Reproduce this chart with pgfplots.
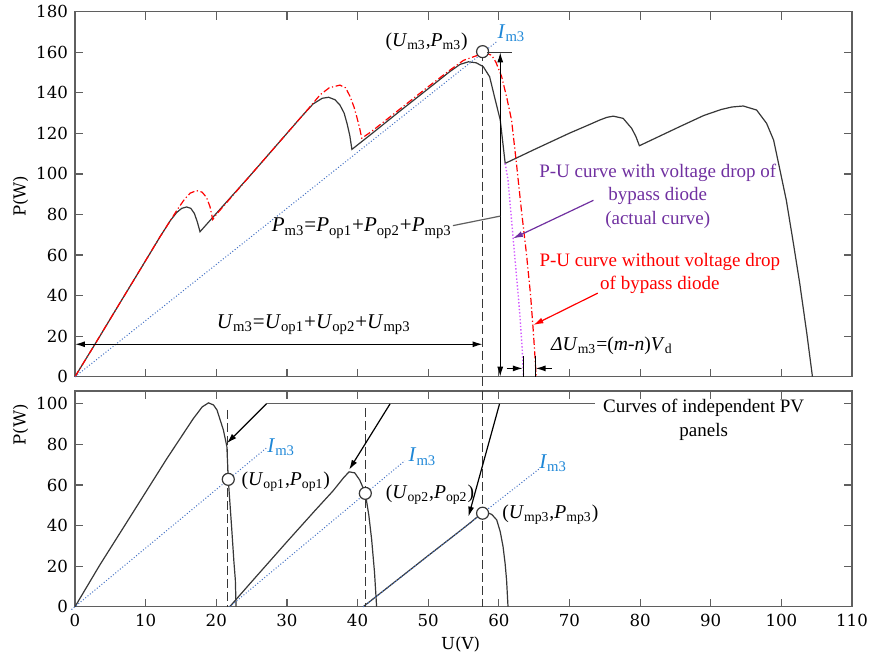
\documentclass[border=0pt]{standalone}
\usepackage{pgfplots}
\pgfplotsset{compat=1.18}
\usetikzlibrary{arrows.meta}
\usepackage{fontspec}
\setmainfont{Liberation Serif}
\newfontfamily\tickfont{DejaVu Serif}
\definecolor{cblk}{RGB}{55,55,55}
\definecolor{axg}{RGB}{95,95,95}
\definecolor{cblue}{RGB}{68,114,196}
\definecolor{lblue}{RGB}{30,135,215}
\definecolor{cpur}{RGB}{112,48,160}
\definecolor{cmag}{RGB}{210,90,255}
\newcommand{\sub}[1]{\textsubscript{#1}}
\newcommand{\mlab}{\fontsize{10.5}{12}\selectfont}
\newcommand{\plab}{\fontsize{9.8}{12}\selectfont}
\newcommand{\tlab}{\fontsize{9.5}{11.75}\selectfont}
\newcommand{\tkf}{\tickfont\fontsize{8.3}{10}\selectfont}
\pgfplotsset{
  base/.style={scale only axis, width=388.5pt, xmin=0, xmax=110,
    xtick={0,10,...,110},
    axis line style={axg, line width=0.7pt},
    major tick style={axg, line width=0.6pt},
    tick align=inside, major tick length=4pt,
    tick label style={font=\tkf},
    /pgf/number format/assume math mode=true,
    clip=false}
}
\begin{document}
\begin{tikzpicture}[>={Latex[length=5pt,width=3pt]}]
% ---------------- top axis ----------------
\begin{axis}[base, at={(0,115pt)}, anchor=south west, height=182.5pt,
  ymin=0, ymax=180, ytick={0,20,...,180}, xticklabels={}]
\addplot[cblk, line width=0.6pt] coordinates {
(0,0)(3,17)(6,34.3)(9,51.5)(12,68.8)(13.5,77)(14.4,81)(15.1,83)(15.8,83.7)(16.4,83)(16.9,80.5)(17.3,76.5)(17.7,71.5)
(20,80.5)(25,100)(30,120)(32,128)(33.7,134.5)(35,137.3)(35.9,137.8)(36.8,136.6)(37.5,134)(38.1,130)(38.5,125)(38.9,119)(39.2,112.1)
(42,119.8)(46,131)(50,142)(53,150.3)(54.5,154)(55.7,155.3)(56.8,154.8)(57.8,152.9)(58.7,147.9)(59.5,136.4)(60.2,126.6)(60.9,105.2)
(65,112)(70,120.1)(73,124.6)(74.3,126.6)(75.3,127.9)(76.2,128.5)(77.6,127.4)(78.8,122.5)(79.4,118.5)(79.9,113.9)
(85.6,123.3)(89,128.8)(91.5,131.8)(93,133)(94.6,133.5)(96.5,131.5)(97.9,125)(98.9,116.7)(99.8,101.9)(100.7,87)(101.7,65.8)(102.6,46)(103.6,21.4)(104.4,0)};
\addplot[cmag, densely dotted, line width=0.7pt] coordinates {
(60.9,105.2)(61.3,97)(61.8,77.3)(62.3,57.5)(62.7,42)(63.0,29.6)(63.3,14)(63.5,0)};
\addplot[red, line width=0.6pt, dash pattern=on 3.5pt off 1.3pt on 0.6pt off 1.3pt] coordinates {
(0,0)(3,17)(6,34.3)(9,51.5)(12,68.8)(13.5,77)(14.5,82.5)(15.5,87.5)(16.3,90.5)(17.2,91.8)(18,91)(18.6,88.5)(19.1,84)(19.5,77.5)
(20,80)(25,100)(30,120)(33,132)(34.7,139)(36,142.5)(37.5,143.8)(38.3,142.5)(38.9,138.5)(39.5,133)(39.9,128)(40.3,122.5)(40.6,117.6)
(42,121)(46,132)(50,143)(53,151)(55,156)(57,158.5)(58,159.8)(59,158.5)(59.6,155)(60.4,148)(61.1,138)(61.8,126.6)(62.5,105)(63.2,82)(63.9,61)(64.5,40)(64.9,21.5)(65.3,0)};
\addplot[cblue, densely dotted, line width=0.5pt] coordinates {(0,0)(59.8,165.5)};
\node[lblue, font=\mlab] at (axis cs:61.8,169.4) {\textit{I}\sub{m3}};
\draw[cblk, dash pattern=on 4.5pt off 2pt, line width=0.6pt] (axis cs:57.7,160.3) -- (axis cs:57.7,-7.1);
\draw[cblk, fill=white, line width=0.6pt] (axis cs:57.7,160.3) circle (3pt);
\node[anchor=east, font=\plab] at (axis cs:56.6,165) {(\textit{U}\sub{m3},\textit{P}\sub{m3})};
\draw[cblk, line width=0.6pt] (axis cs:58.3,160) -- (axis cs:61.8,160);
\draw[<->, black, line width=0.6pt] (axis cs:60.2,160) -- (axis cs:60.2,0);
\draw[axg, line width=0.6pt] (axis cs:53.5,74.5) -- (axis cs:60.2,79.2);
\node[font=\mlab] at (axis cs:40.6,73.3) {\textit{P}\sub{m3}=\textit{P}\sub{op1}+\textit{P}\sub{op2}+\textit{P}\sub{mp3}};
\draw[<->, black, line width=0.6pt] (axis cs:0,16) -- (axis cs:57.7,16);
\node[font=\mlab] at (axis cs:33.8,25.5) {\textit{U}\sub{m3}=\textit{U}\sub{op1}+\textit{U}\sub{op2}+\textit{U}\sub{mp3}};
\draw[->, black, line width=0.6pt] (axis cs:61.1,4.1) -- (axis cs:63.4,4.1);
\draw[->, black, line width=0.6pt] (axis cs:67.5,4.1) -- (axis cs:65.2,4.1);
\draw[black, line width=0.6pt] (axis cs:63.5,0) -- (axis cs:63.5,10);
\draw[black, line width=0.6pt] (axis cs:65.2,0) -- (axis cs:65.2,10);
\node[anchor=west, font=\plab] at (axis cs:66.4,15.3) {\textit{ΔU}\sub{m3}=(\textit{m}-\textit{n})\textit{V}\sub{d}};
\node[cpur, font=\tlab, align=center] at (axis cs:82.5,89.1) {P-U curve with voltage drop of\\bypass diode\\(actual curve)};
\draw[->, cpur, line width=0.6pt] (axis cs:73.4,87) -- (axis cs:62.0,68.2);
\node[red, font=\tlab, align=center] at (axis cs:82.8,50.9) {P-U curve without voltage drop\\of bypass diode};
\draw[->, red, line width=0.6pt] (axis cs:74,41.2) -- (axis cs:64.9,25.5);
\node[rotate=90, font=\tkf] at (axis cs:-7.7,89) {P(W)};
\end{axis}
% ---------------- bottom axis ----------------
\begin{axis}[base, at={(0,0)}, anchor=south west, height=107.9pt,
  ymin=0, ymax=106.4, ytick={0,20,...,100}]
\addplot[cblk, line width=0.6pt] coordinates {
(0,0)(3.5,20.5)(8.3,47)(13,73)(16.7,92.5)(18,98.5)(18.9,100.5)(19.6,99.5)(20.1,97)(21,87.2)(21.5,79)(21.7,62.8)(22.2,37.8)(22.5,22)(22.7,13.2)(22.8,0)};
\addplot[cblk, line width=0.6pt] coordinates {
(21.9,0)(25,12.3)(30,32)(34,47.5)(36.5,57)(38,63.5)(38.8,66.5)(39.6,66)(40.3,62.5)(40.8,58.5)(41.1,55.9)(41.6,45)(42,33)(42.4,17)(42.7,0)};
\addplot[cblk, line width=0.6pt] coordinates {
(40.8,0)(45,11.5)(50,25.2)(54,36)(56,41.5)(57.2,45)(57.7,46.1)(58.3,46.5)(59,45.5)(59.7,42.8)(60.2,37)(60.6,29.6)(60.9,21)(61.1,13)(61.3,0)};
\addplot[cblue, densely dotted, line width=0.5pt] coordinates {(-0.5,-1.4)(27.1,78.3)};
\addplot[cblue, densely dotted, line width=0.5pt] coordinates {(21.9,0)(46.7,72)};
\addplot[cblue, densely dotted, line width=0.5pt] coordinates {(40.8,0)(65.8,68.2)};
\node[lblue, font=\mlab] at (axis cs:29.2,78.5) {\textit{I}\sub{m3}};
\node[lblue, font=\mlab] at (axis cs:49.2,74) {\textit{I}\sub{m3}};
\node[lblue, font=\mlab] at (axis cs:67.7,70.9) {\textit{I}\sub{m3}};
\draw[cblk, dash pattern=on 4.5pt off 2pt, line width=0.6pt] (axis cs:21.6,97) -- (axis cs:21.6,0);
\draw[cblk, dash pattern=on 4.5pt off 2pt, line width=0.6pt] (axis cs:41.1,98) -- (axis cs:41.1,0);
\draw[cblk, dash pattern=on 4.5pt off 2pt, line width=0.6pt] (axis cs:57.7,106.4) -- (axis cs:57.7,0);
\draw[cblk, fill=white, line width=0.6pt] (axis cs:21.7,62.8) circle (3pt);
\draw[cblk, fill=white, line width=0.6pt] (axis cs:41.1,55.9) circle (3pt);
\draw[cblk, fill=white, line width=0.6pt] (axis cs:57.7,46.1) circle (3pt);
\node[anchor=west, font=\plab] at (axis cs:22.6,61.7) {(\textit{U}\sub{op1},\textit{P}\sub{op1})};
\node[anchor=west, font=\plab] at (axis cs:43.0,55.1) {(\textit{U}\sub{op2},\textit{P}\sub{op2})};
\node[anchor=west, font=\plab] at (axis cs:59.5,45.2) {(\textit{U}\sub{mp3},\textit{P}\sub{mp3})};
\draw[axg, line width=0.6pt] (axis cs:27.1,100) -- (axis cs:73.6,100);
\draw[->, black, line width=0.6pt] (axis cs:27.1,100) -- (axis cs:21.5,80.6);
\draw[->, black, line width=0.6pt] (axis cs:44.6,100) -- (axis cs:38.8,67.5);
\draw[->, black, line width=0.6pt] (axis cs:60.1,100) -- (axis cs:55.7,44.4);
\node[font=\tlab, align=center] at (axis cs:89,92.1) {Curves of independent PV\\panels};
\node[rotate=90, font=\tkf] at (axis cs:-7.7,89.6) {P(W)};
\node[font=\tkf] at (axis cs:54.6,-18.5) {U(V)};
\end{axis}
\pgfresetboundingbox
\path (-37.5pt,-26.65pt) rectangle (397.5pt,303.35pt);
\end{tikzpicture}
\end{document}
